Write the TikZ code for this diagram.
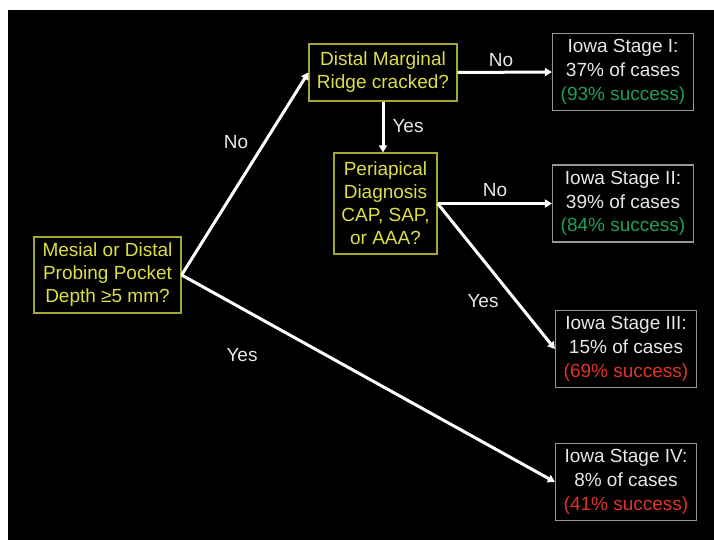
\documentclass[tikz,border=0pt]{standalone}
\usepackage{fontspec}
\setmainfont{Liberation Sans}
\usetikzlibrary{positioning, arrows.meta}
\definecolor{slideyellow}{RGB}{222,222,70}
\definecolor{boxolive}{RGB}{165,165,50}
\definecolor{boxgray}{RGB}{150,150,150}
\definecolor{textgray}{RGB}{232,232,232}
\definecolor{okgreen}{RGB}{30,160,85}
\definecolor{badred}{RGB}{225,50,42}

\begin{document}
\begin{tikzpicture}[x = 1pt, y = -1pt,
    every node/.style = {font = \fontsize{19}{23}\selectfont},
    question/.style = {draw = boxolive, line width = 1.2pt, text = slideyellow,
      align = center, inner sep = 0pt},
    outcome/.style = {draw = boxgray, line width = 1.2pt, text = textgray,
      align = center, inner sep = 0pt, minimum width = 141pt, minimum height = 77pt,
      font = \fontsize{19}{23.7}\selectfont},
    branch/.style = {->, >={Triangle[length = 7pt, width = 8pt]},
      line width = 3pt, white},
    answer/.style = {text = textgray, inner sep = 0pt}]
    \useasboundingbox (0,0) rectangle (714,540);
    \fill[black] (8,10) rectangle (714,540);

    % questions
    \node[question, minimum width = 147pt, minimum height = 76pt] (pocket-depth)
      at (107.5,275) {Mesial or Distal\\Probing Pocket\\Depth ≥5 mm?};
    \node[question, minimum width = 148pt, minimum height = 57pt] (marginal-ridge)
      at (383,72.5) {Distal Marginal\\Ridge cracked?};
    \node[question, minimum width = 103pt, minimum height = 101pt] (periapical-dx)
      at (385.5,203.5) {Periapical\\Diagnosis\\CAP, SAP,\\or AAA?};

    % outcomes
    \node[outcome] (stage-1) at (623,72)
      {Iowa Stage I:\\37\% of cases\\\textcolor{okgreen}{(93\% success)}};
    \node[outcome] (stage-2) at (623,203.5)
      {Iowa Stage II:\\39\% of cases\\\textcolor{okgreen}{(84\% success)}};
    \node[outcome] (stage-3) at (626,349)
      {Iowa Stage III:\\15\% of cases\\\textcolor{badred}{(69\% success)}};
    \node[outcome] (stage-4) at (626,482)
      {Iowa Stage IV:\\8\% of cases\\\textcolor{badred}{(41\% success)}};

    \draw[branch] (pocket-depth.east) -- (marginal-ridge.west);
    \draw[branch] (pocket-depth.east) -- (stage-4.west);
    \draw[branch] (marginal-ridge.east) -- (stage-1.west);
    \draw[branch] (marginal-ridge.south) -- (marginal-ridge.south |- periapical-dx.north);
    \draw[branch] (periapical-dx.east) -- (stage-2.west);
    \draw[branch] (periapical-dx.east) -- (stage-3.west);

    \node[answer] (depth-no-t) at (236,142) {No};
    \node[answer] (depth-yes-t) at (242,355) {Yes};
    \node[answer] (ridge-no-t) at (501,60) {No};
    \node[answer] (ridge-yes-t) at (408,126) {Yes};
    \node[answer] (dx-no-t) at (495,190) {No};
    \node[answer] (dx-yes-t) at (483,301) {Yes};
  \end{tikzpicture}
\end{document}
